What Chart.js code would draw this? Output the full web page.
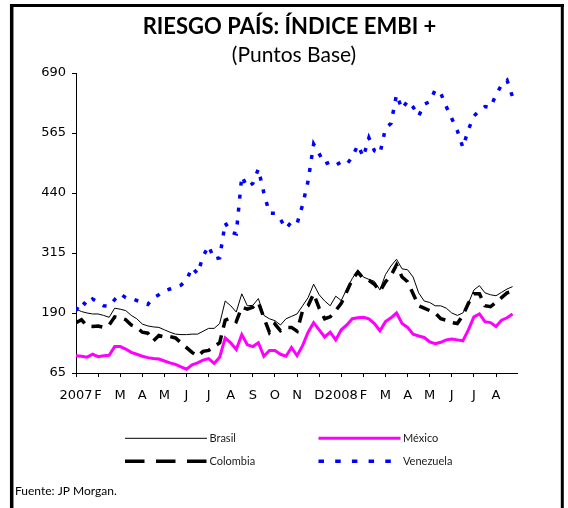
<!DOCTYPE html>
<html>
<head>
<meta charset="utf-8">
<script src="https://cdn.jsdelivr.net/npm/chart.js@4.4.1/dist/chart.umd.min.js"></script>
<style>
html,body{margin:0;padding:0;background:#fff;}
canvas{display:block;}
</style>
</head>
<body>
<canvas id="c" width="568" height="508"></canvas>
<script>
// ---- Data (weekly readings, 4 per month, starting Jan 2007) ----
const monthLabels = ['2007','F','M','A','M','J','J','A','S','O','N','D','2008','F','M','A','M','J','J','A'];
const yTickValues = [65, 190, 315, 440, 565, 690];
const pointsPerMonth = 4;

const brasil = [
  198,193,190,188, 188,185,181,200, 198,195,185,178, 167,163,161,160,
  155,150,146,145, 145,146,146,152, 158,158,168,215, 205,192,230,205,
  206,220,185,178, 174,165,178,183, 188,205,222,250, 228,215,205,225,
  216,240,262,280, 265,260,256,238, 270,288,302,282, 280,265,232,215,
  212,205,205,200, 190,185,190,210, 238,247,232,228, 226,233,240,245
];
const mexico = [
  101,100,98,104, 99,101,102,120, 120,115,108,104, 100,97,95,94,
  90,86,83,78, 73,82,86,92, 95,85,98,138, 128,114,145,124,
  120,128,100,112, 112,104,100,118, 101,122,150,170, 155,140,150,134,
  155,165,178,180, 181,178,168,153, 172,180,190,168, 160,146,142,139,
  130,126,129,134, 136,134,132,155, 182,188,172,170, 162,175,180,188
];
const colombia = [
  170,176,163,162, 163,160,165,182, 180,176,165,160, 150,148,132,143,
  140,141,138,128, 118,108,100,110, 112,120,128,175, 180,172,202,198,
  202,212,180,150, 167,153,160,160, 152,195,205,230, 200,178,182,195,
  210,235,260,275, 262,258,250,235, 255,268,290,265, 255,230,205,200,
  195,190,178,175, 170,168,185,210, 230,230,205,203, 212,222,232,235
];
const venezuela = [
  195,215,205,219, 212,205,204,218, 230,222,220,216, 212,208,222,228,
  236,240,244,248, 258,285,272,308, 330,302,305,378, 358,355,475,452,
  460,490,440,398, 398,385,366,380, 376,415,465,542, 522,500,505,498,
  505,500,515,540, 515,555,528,522, 575,585,645,615, 632,619,600,625,
  630,655,648,620, 595,570,535,572, 600,612,620,618, 645,665,675,640
];

const titleText = 'RIESGO PAÍS: ÍNDICE EMBI +';
const subtitleText = '(Puntos Base)';
const sourceText = 'Fuente: JP Morgan.';

function toPoints(values) {
  return values.map((v, i) => ({ x: i / pointsPerMonth, y: v }));
}

const datasets = [
  { label: 'Brasil', data: toPoints(brasil), borderColor: '#000000', borderWidth: 1,
    order: 3, legendDash: [], legendCol: 0, legendRow: 0 },
  { label: 'México', data: toPoints(mexico), borderColor: '#FF00FF', borderWidth: 3,
    order: 2, legendDash: [], legendCol: 1, legendRow: 0 },
  { label: 'Colombia', data: toPoints(colombia), borderColor: '#000000', borderWidth: 3.5,
    borderDash: [11, 8], order: 1, legendDash: [19.5, 11.5], legendCol: 0, legendRow: 1 },
  { label: 'Venezuela', data: toPoints(venezuela), borderColor: '#0000FF', borderWidth: 3.5,
    borderDash: [4, 9], order: 0, legendDash: [5.5, 11.2], legendCol: 1, legendRow: 1 }
];
datasets.forEach(d => { d.pointRadius = 0; d.tension = 0; d.fill = false; d.borderCapStyle = 'butt'; });

const decor = {
  id: 'decor',
  afterDraw(chart) {
    const ctx = chart.ctx;
    ctx.save();
    // frame
    ctx.strokeStyle = '#000';
    ctx.setLineDash([]);
    ctx.lineWidth = 3.5;
    ctx.beginPath(); ctx.moveTo(11.7, 4); ctx.lineTo(11.7, 508); ctx.stroke();
    ctx.lineWidth = 3;
    ctx.beginPath(); ctx.moveTo(10, 5.5); ctx.lineTo(564, 5.5); ctx.stroke();
    ctx.beginPath(); ctx.moveTo(562.3, 4); ctx.lineTo(562.3, 508); ctx.stroke();

    // titles
    ctx.fillStyle = '#000';
    ctx.textAlign = 'center';
    ctx.textBaseline = 'alphabetic';
    ctx.font = 'bold 22px Lato';
    ctx.fillText(titleText, 289.5, 33.5);
    ctx.font = '21px Lato';
    ctx.fillText(subtitleText, 294, 61.5);

    // legend
    const colX = [125, 318.5];
    const rowY = [438.3, 461.3];
    const lineLen = 82;
    chart.data.datasets.forEach(ds => {
      const x0 = colX[ds.legendCol];
      const y = rowY[ds.legendRow];
      ctx.strokeStyle = ds.borderColor;
      ctx.lineWidth = ds.borderWidth;
      ctx.lineCap = 'butt';
      ctx.setLineDash(ds.legendDash);
      ctx.beginPath(); ctx.moveTo(x0, y); ctx.lineTo(x0 + lineLen, y); ctx.stroke();
      ctx.setLineDash([]);
      ctx.fillStyle = '#1a1a1a';
      ctx.font = '11px Lato';
      ctx.textAlign = 'left';
      ctx.textBaseline = 'middle';
      ctx.fillText(ds.label, x0 + lineLen + 2.5, y + 0.5);
    });

    // source
    ctx.fillStyle = '#000';
    ctx.font = '12px Lato';
    ctx.textAlign = 'left';
    ctx.textBaseline = 'middle';
    ctx.fillText(sourceText, 15, 491);
    ctx.restore();
  }
};

new Chart(document.getElementById('c'), {
  type: 'line',
  data: { datasets },
  options: {
    responsive: false,
    animation: false,
    events: [],
    layout: { padding: { left: 0, top: 73, right: 51, bottom: 105 } },
    plugins: { legend: { display: false }, title: { display: false }, tooltip: { enabled: false } },
    scales: {
      x: {
        type: 'linear', min: 0, max: 19.95,
        afterBuildTicks: s => { s.ticks = monthLabels.map((_, i) => ({ value: i })); },
        afterFit: s => { s.height = 30; },
        ticks: {
          autoSkip: false, maxRotation: 0, minRotation: 0, padding: 11,
          color: '#000', font: { family: 'DejaVu Sans', size: 13 },
          callback: v => monthLabels[v] !== undefined ? monthLabels[v] : ''
        },
        grid: { drawOnChartArea: false, drawTicks: true, tickLength: 4, color: '#000', lineWidth: 1 },
        border: { display: true, color: '#000', width: 1 }
      },
      y: {
        type: 'linear', min: 65, max: 690,
        afterBuildTicks: s => { s.ticks = yTickValues.map(v => ({ value: v })); },
        afterFit: s => { s.width = 76; },
        ticks: { padding: 6, color: '#000', font: { family: 'DejaVu Sans', size: 13 } },
        grid: { drawOnChartArea: false, drawTicks: true, tickLength: 4, color: '#000', lineWidth: 1 },
        border: { display: true, color: '#000', width: 1 }
      }
    }
  },
  plugins: [decor]
});
</script>
</body>
</html>
